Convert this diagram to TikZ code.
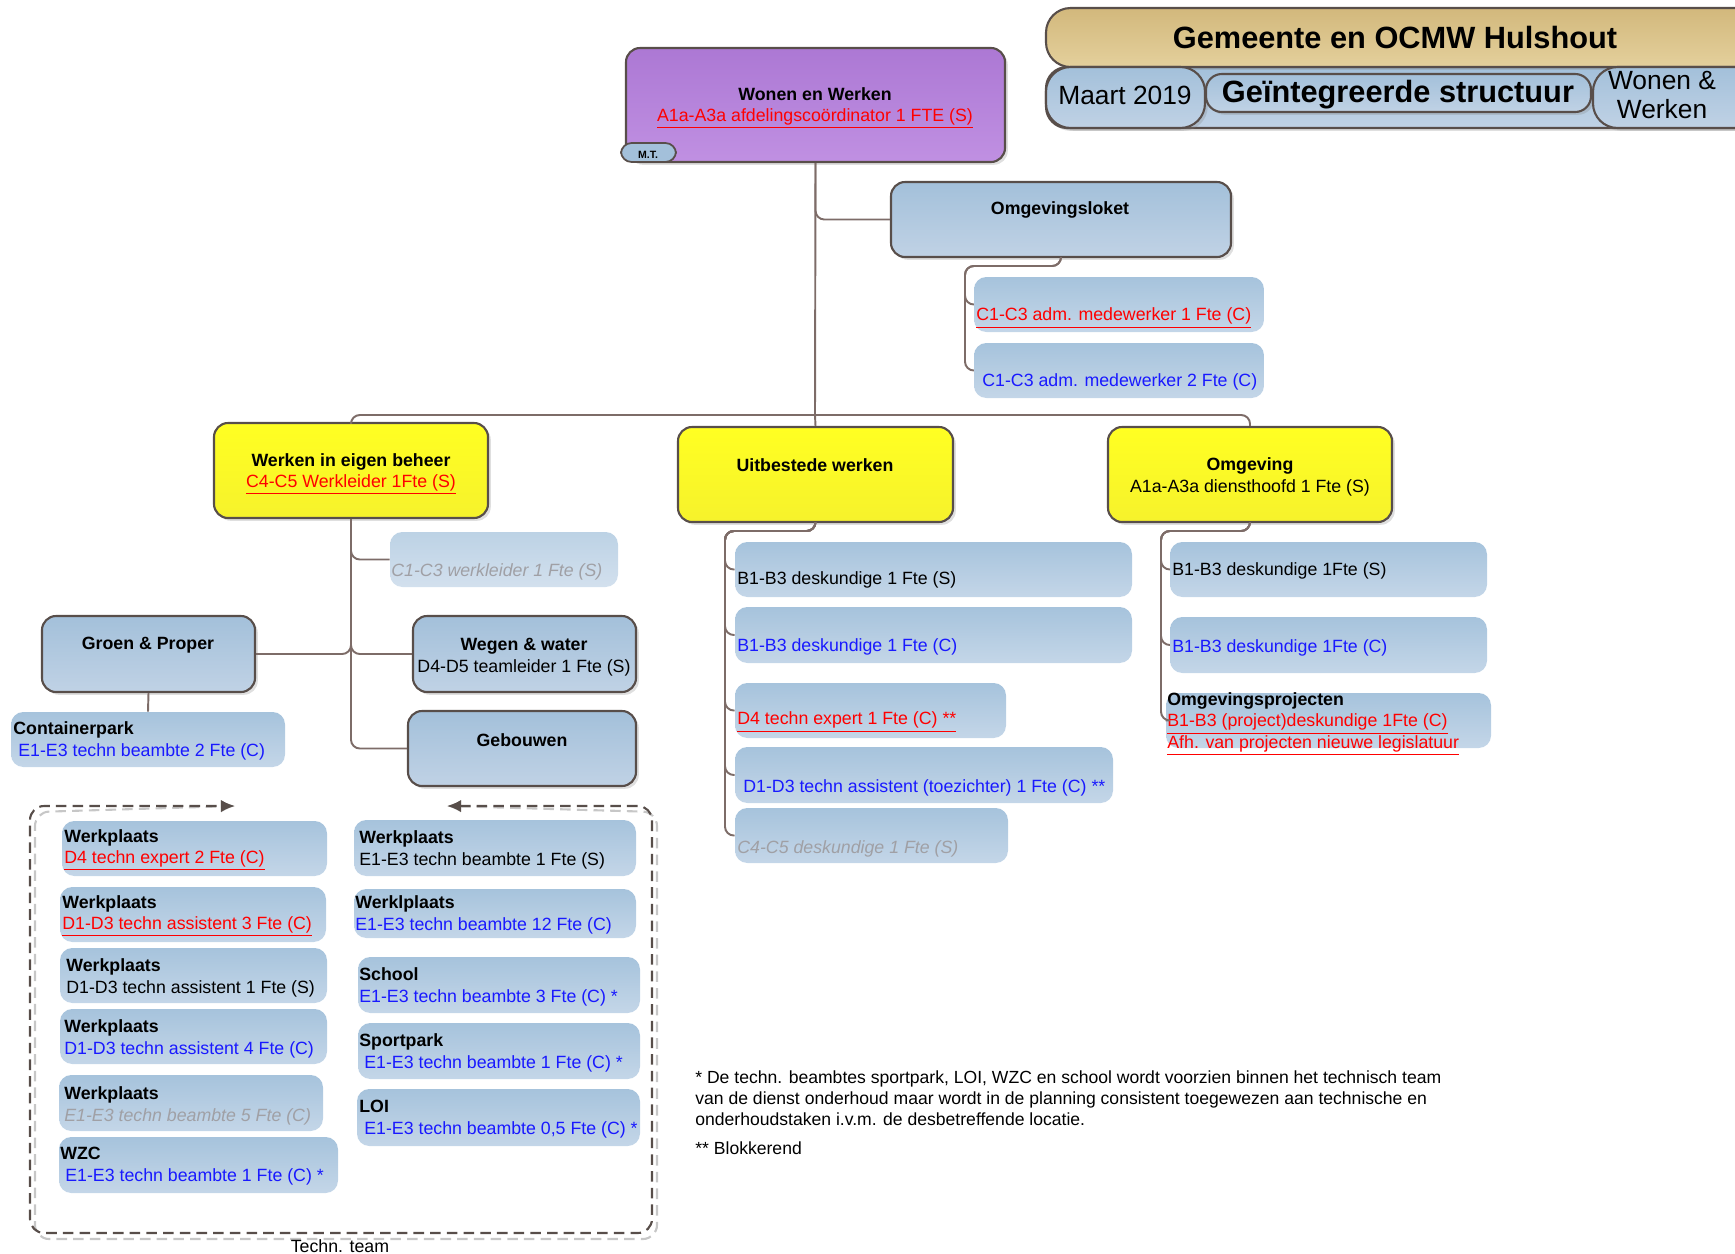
\documentclass[tikz,border=0pt]{standalone}
\usepackage{fontspec}
\setmainfont{Liberation Sans}
\usepackage{tikz}
\usetikzlibrary{arrows.meta}
\usetikzlibrary{fit}
\usetikzlibrary{shadows}

\definecolor{edgegray}{RGB}{88,78,74}
\definecolor{linkgray}{RGB}{125,108,104}
\definecolor{unitblueA}{RGB}{163,192,218}
\definecolor{unitblueB}{RGB}{192,210,229}
\definecolor{subblueA}{RGB}{166,195,220}
\definecolor{subblueB}{RGB}{196,214,232}
\definecolor{purpleA}{RGB}{172,120,212}
\definecolor{purpleB}{RGB}{192,144,226}
\definecolor{yellowA}{RGB}{255,255,34}
\definecolor{yellowB}{RGB}{246,242,44}
\definecolor{tanA}{RGB}{210,184,124}
\definecolor{tanB}{RGB}{228,208,156}
\definecolor{redtext}{RGB}{255,0,0}
\definecolor{bluetext}{RGB}{25,25,255}
\definecolor{graytext}{RGB}{160,160,165}

\newcommand{\fteRed}[1]{\textcolor{redtext}{\underline{#1}}}
\newcommand{\fteBlue}[1]{\textcolor{bluetext}{#1}}
\newcommand{\fteGray}[1]{\textcolor{graytext}{\itshape #1}}

\tikzset{
  conn/.style={draw=linkgray, line width=1.1pt, rounded corners=5pt},
  unit/.style={draw=edgegray, line width=1.2pt, rounded corners=8pt, inner sep=0pt,
    drop shadow={opacity=0.25, shadow xshift=1.6pt, shadow yshift=-1.6pt}},
  bluebox/.style={unit, top color=unitblueA, bottom color=unitblueB},
  yellowbox/.style={unit, top color=yellowA, bottom color=yellowB},
  subbox/.style={rounded corners=7pt, inner sep=0pt, top color=subblueA, bottom color=subblueB},
  ctr/.style={inner sep=0pt, align=center},
  lbl/.style={inner sep=0pt, anchor=west, align=left, yshift=-0.4mm},
  frame/.style={draw=edgegray, line width=1.2pt, dashed, dash pattern=on 6pt off 3.5pt, rounded corners=8pt},
}

\begin{document}
\begin{tikzpicture}[x=0.2mm, y=-0.2mm, font=\fontsize{10.1}{12.2}\selectfont]
  \useasboundingbox (0,0) rectangle (1735,1254);

  % kop rechtsboven
  \node[bluebox, rounded corners=12pt, fit={(1046,67) (1760,128)}] (strip) {};
  \node[unit, top color=tanA, bottom color=tanB, rounded corners=14pt, fit={(1046,8) (1760,67)}] (banner) {};
  \node[ctr, font=\fontsize{17.5}{20}\selectfont\bfseries] (bannert) at (1395,38) {Gemeente en OCMW Hulshout};
  \node[bluebox, rounded corners=14pt, fit={(1046,67) (1205,128)}] (maart) {};
  \node[ctr, font=\fontsize{15}{16}\selectfont] (maartt) at (1125,95) {Maart 2019};
  \node[bluebox, rounded corners=9pt, fit={(1206,74) (1591,112)}] (structuur) {};
  \node[ctr, font=\fontsize{17.5}{20}\selectfont\bfseries] (structuurt) at (1398,95) {Geïntegreerde structuur};
  \node[bluebox, rounded corners=14pt, fit={(1593,67) (1760,128)}] (wonen) {};
  \node[ctr, font=\fontsize{15}{16.5}\selectfont] (wonent) at (1662,95) {Wonen \&\\Werken};

  % afdeling
  \node[unit, top color=purpleA, bottom color=purpleB, fit={(626,48) (1005,162)}] (wew) {};
  \node[ctr] (wewt) at (815,108) {\textbf{Wonen en Werken}\\\fteRed{A1a-A3a afdelingscoördinator 1 FTE (S)}};
  \node[draw=edgegray, line width=1pt, rounded corners=6pt, fill=unitblueA, inner sep=0pt, fit={(621,143) (676,162)}] (mt) {};
  \node[ctr, font=\fontsize{6}{7}\selectfont\bfseries] (mtt) at (648,155) {M.T.};

  % omgevingsloket
  \node[bluebox, fit={(891,182) (1231,257)}] (loket) {};
  \node[ctr] (lokett) at (1060,210) {\textbf{Omgevingsloket}};
  \node[subbox, fit={(974,277) (1264,332)}] (adm1) {};
  \node[lbl] (adm1t) at (976,316) {\fteRed{C1-C3 adm. medewerker 1 Fte (C)}};
  \node[subbox, fit={(974,343) (1264,398)}] (adm2) {};
  \node[lbl] (adm2t) at (982,380) {\fteBlue{C1-C3 adm. medewerker 2 Fte (C)}};

  % diensten
  \node[yellowbox, fit={(214,423) (488,518)}] (werken) {};
  \node[ctr] (werkent) at (351,474) {\textbf{Werken in eigen beheer}\\\fteRed{C4-C5 Werkleider 1Fte (S)}};
  \node[yellowbox, fit={(678,427) (953,522)}] (uitbesteed) {};
  \node[ctr] (uitbesteedt) at (815,465) {\textbf{Uitbestede werken}};
  \node[yellowbox, fit={(1108,427) (1392,522)}] (omgeving) {};
  \node[ctr] (omgevingt) at (1250,477) {\textbf{Omgeving}\\A1a-A3a diensthoofd 1 Fte (S)};

  % werken in eigen beheer
  \node[subbox, top color=subblueA!75!white, bottom color=subblueB!75!white, fit={(390,532) (618,587)}] (werkleider) {};
  \node[lbl] (werkleidert) at (391,570) {\fteGray{C1-C3 werkleider 1 Fte (S)}};
  \node[bluebox, fit={(42,616) (255,692)}] (groen) {};
  \node[ctr] (groent) at (148,645) {\textbf{Groen \& Proper}};
  \node[bluebox, fit={(413,616) (636,692)}] (wegen) {};
  \node[ctr] (wegent) at (524,657) {\textbf{Wegen \& water}\\D4-D5 teamleider 1 Fte (S)};
  \node[bluebox, fit={(408,711) (636,786)}] (gebouwen) {};
  \node[ctr] (gebouwent) at (522,740) {\textbf{Gebouwen}};
  \node[subbox, fit={(11,712) (285,767)}] (container) {};
  \node[lbl] (containert) at (13,739) {\textbf{Containerpark}\\\hspace*{1mm}\fteBlue{E1-E3 techn beambte 2 Fte (C)}};

  % uitbestede werken
  \node[subbox, fit={(735,542) (1132,597)}] (ub1) {};
  \node[lbl] (ub1t) at (737,578) {B1-B3 deskundige 1 Fte (S)};
  \node[subbox, fit={(735,607) (1132,663)}] (ub2) {};
  \node[lbl] (ub2t) at (737,645) {\fteBlue{B1-B3 deskundige 1 Fte (C)}};
  \node[subbox, fit={(735,683) (1006,738)}] (ub3) {};
  \node[lbl] (ub3t) at (737,720) {\fteRed{D4 techn expert 1 Fte (C) **}};
  \node[subbox, fit={(735,747) (1113,803)}] (ub4) {};
  \node[lbl] (ub4t) at (743,786) {\fteBlue{D1-D3 techn assistent (toezichter) 1 Fte (C) **}};
  \node[subbox, fit={(735,808) (1008,863)}] (ub5) {};
  \node[lbl] (ub5t) at (737,847) {\fteGray{C4-C5 deskundige 1 Fte (S)}};

  % omgeving
  \node[subbox, fit={(1170,542) (1487,597)}] (ob1) {};
  \node[lbl] (ob1t) at (1172,569) {B1-B3 deskundige 1Fte (S)};
  \node[subbox, fit={(1170,617) (1487,673)}] (ob2) {};
  \node[lbl] (ob2t) at (1172,646) {\fteBlue{B1-B3 deskundige 1Fte (C)}};
  \node[subbox, fit={(1166,693) (1491,748)}] (ob3) {};
  \node[lbl] (ob3t) at (1167,722) {\textbf{Omgevingsprojecten}\\\fteRed{B1-B3 (project)deskundige 1Fte (C)}\\\fteRed{Afh. van projecten nieuwe legislatuur}};

  % verbindingen
  \coordinate (hub) at (815,415);
  \coordinate (loketbus) at (965,266);
  \coordinate (uitbus) at (725,531);
  \coordinate (omgbus) at (1161,531);
  \draw[conn] (wew.south) -- (hub);
  \draw[conn] (wew.south) |- (loket.west);
  \draw[conn] (werken.north) |- (hub) -| (omgeving.north);
  \draw[conn] (hub) -- (uitbesteed.north);
  \foreach \a in {adm1,adm2}
    \draw[conn] (loket.south) |- (loketbus) |- (\a.west);
  \foreach \w in {werkleider,wegen,gebouwen}
    \draw[conn] (werken.south) |- (\w.west);
  \draw[conn] (werken.south) |- (groen.east);
  \draw[conn] (groen.south) -- (container.north);
  \foreach \u in {ub1,ub2,ub3,ub4,ub5}
    \draw[conn] (uitbesteed.south) |- (uitbus) |- (\u.west);
  \foreach \o in {ob1,ob2,ob3}
    \draw[conn] (omgeving.south) |- (omgbus) |- (\o.west);

  % technisch team
  \coordinate (teamL) at (235,806);
  \coordinate (teamR) at (447,806);
  \draw[frame, draw=black!22, shift={(5,6)}, {Latex[length=8pt,width=7pt]}-{Latex[length=8pt,width=7pt]}]
    (teamR) -- (652,806) -- (652,1233) -- (30,1233) -- (30,806) -- (teamL);
  \draw[frame, {Latex[length=8pt,width=7pt]}-{Latex[length=8pt,width=7pt]}]
    (teamR) -- (652,806) -- (652,1233) -- (30,1233) -- (30,806) -- (teamL);

  \node[subbox, fit={(62,821) (327,876)}] (w1) {};
  \node[lbl] (w1t) at (64,848) {\textbf{Werkplaats}\\\fteRed{D4 techn expert 2 Fte (C)}};
  \node[subbox, fit={(60,887) (326,942)}] (w2) {};
  \node[lbl] (w2t) at (62,914) {\textbf{Werkplaats}\\\fteRed{D1-D3 techn assistent 3 Fte (C)}};
  \node[subbox, fit={(60,948) (327,1003)}] (w3) {};
  \node[lbl] (w3t) at (66,976) {\textbf{Werkplaats}\\D1-D3 techn assistent 1 Fte (S)};
  \node[subbox, fit={(60,1009) (327,1064)}] (w4) {};
  \node[lbl] (w4t) at (64,1037) {\textbf{Werkplaats}\\\fteBlue{D1-D3 techn assistent 4 Fte (C)}};
  \node[subbox, fit={(59,1075) (323,1131)}] (w5) {};
  \node[lbl] (w5t) at (64,1104) {\textbf{Werkplaats}\\\fteGray{E1-E3 techn beambte 5 Fte (C)}};
  \node[subbox, fit={(59,1137) (338,1193)}] (wzc) {};
  \node[lbl] (wzct) at (60,1164) {\textbf{WZC}\\\hspace*{1mm}\fteBlue{E1-E3 techn beambte 1 Fte (C) *}};

  \node[subbox, fit={(354,820) (636,876)}] (r1) {};
  \node[lbl] (r1t) at (359,848) {\textbf{Werkplaats}\\E1-E3 techn beambte 1 Fte (S)};
  \node[subbox, fit={(354,889) (636,938)}] (r2) {};
  \node[lbl] (r2t) at (355,913) {\textbf{Werklplaats}\\\fteBlue{E1-E3 techn beambte 12 Fte (C)}};
  \node[subbox, fit={(358,957) (640,1013)}] (r3) {};
  \node[lbl] (r3t) at (359,985) {\textbf{School}\\\fteBlue{E1-E3 techn beambte 3 Fte (C) *}};
  \node[subbox, fit={(358,1023) (640,1079)}] (r4) {};
  \node[lbl] (r4t) at (359,1051) {\textbf{Sportpark}\\\hspace*{1mm}\fteBlue{E1-E3 techn beambte 1 Fte (C) *}};
  \node[subbox, fit={(357,1089) (640,1146)}] (r5) {};
  \node[lbl] (r5t) at (359,1117) {\textbf{LOI}\\\hspace*{1mm}\fteBlue{E1-E3 techn beambte 0,5 Fte (C) *}};

  \node[ctr] (teamt) at (340,1246) {Techn. team};

  % voetnoten
  \node[lbl, font=\fontsize{10}{11.9}\selectfont] (noot) at (695,1096) {* De techn. beambtes sportpark, LOI, WZC en school wordt voorzien binnen het technisch team\\van de dienst onderhoud maar wordt in de planning consistent toegewezen aan technische en\\onderhoudstaken i.v.m. de desbetreffende locatie.};
  \node[lbl, font=\fontsize{10}{11.9}\selectfont] (blok) at (695,1146) {** Blokkerend};
\end{tikzpicture}
\end{document}
